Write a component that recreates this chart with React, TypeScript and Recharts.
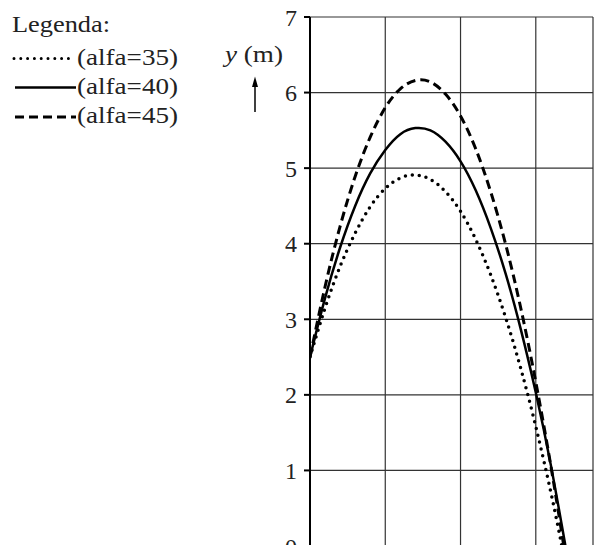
import { CartesianGrid, Line, LineChart, XAxis, YAxis } from 'recharts'

// horizontal distance in metres, read at each whole metre
const distances = [0, 1, 2, 3, 4, 5, 6, 7, 8, 9, 10, 11, 12, 13, 14, 15, 16]

// height (m) for each launch angle
const alfa35 = [2.5, 3.15, 3.7, 4.14, 4.49, 4.73, 4.87, 4.91, 4.85, 4.69, 4.43, 4.06, 3.59, 3.02, 2.35, 1.58, 0.71]
const alfa40 = [2.5, 3.28, 3.95, 4.5, 4.93, 5.24, 5.45, 5.53, 5.5, 5.35, 5.09, 4.71, 4.21, 3.6, 2.87, 2.03, 1.07]
const alfa45 = [2.5, 3.43, 4.23, 4.89, 5.41, 5.8, 6.05, 6.16, 6.14, 5.98, 5.69, 5.26, 4.69, 3.99, 3.15, 2.17, 1.06]

// where each curve reaches the ground
const landing35 = 16.73
const landing40 = 16.97
const landing45 = 16.86

const yTicks = [0, 1, 2, 3, 4, 5, 6, 7]
const xTicks = [0, 5, 10, 15]

const serif = '"Liberation Serif", "Times New Roman", Times, serif'

function series(values: number[], landing: number) {
  return [...distances.map((x, i) => ({ x, y: values[i] })), { x: landing, y: 0 }]
}

// the reference type is a little wider than Times, so stretch the text
function LegendBox() {
  return (
    <svg
      width={300}
      height={130}
      style={{ position: 'absolute', left: 0, top: 0, fontFamily: serif }}
      fill="#222"
    >
      <text x={12} y={32} fontSize={24} textLength={98} lengthAdjust="spacingAndGlyphs">
        Legenda:
      </text>
      <line x1={14} x2={75} y1={58.5} y2={58.5} stroke="#000" strokeWidth={3} strokeDasharray="0 6.8" strokeLinecap="round" />
      <text x={77} y={65} fontSize={24} textLength={101} lengthAdjust="spacingAndGlyphs">
        (alfa=35)
      </text>
      <line x1={15} x2={76} y1={87.5} y2={87.5} stroke="#000" strokeWidth={2.5} />
      <text x={77} y={94} fontSize={24} textLength={101} lengthAdjust="spacingAndGlyphs">
        (alfa=40)
      </text>
      <line x1={15} x2={76} y1={117} y2={117} stroke="#000" strokeWidth={3} strokeDasharray="9 5" />
      <text x={77} y={123} fontSize={24} textLength={101} lengthAdjust="spacingAndGlyphs">
        (alfa=45)
      </text>

      <text x={225} y={62} fontSize={24} textLength={58} lengthAdjust="spacingAndGlyphs">
        <tspan fontStyle="italic">y</tspan> (m)
      </text>
      <line x1={255} x2={255} y1={112} y2={84} stroke="#000" strokeWidth={1.5} />
      <polygon points="255,76.5 252,87 258,87" fill="#000" />
    </svg>
  )
}

const NoTick = () => <g />

export default function App() {
  return (
    <div
      style={{
        position: 'fixed',
        left: 0,
        top: 0,
        width: 596,
        height: 545,
        overflow: 'hidden',
        background: '#fff',
        fontFamily: serif,
      }}
    >
      <LineChart width={640} height={600} margin={{ top: 17, right: 47, left: 250, bottom: 24 }}>
        <CartesianGrid stroke="#333" strokeWidth={1.2} />
        <XAxis
          type="number"
          dataKey="x"
          domain={[0, 18.8]}
          ticks={xTicks}
          allowDataOverflow
          height={30}
          stroke="#000"
          strokeWidth={2}
          tickSize={6}
          tick={NoTick}
        />
        <YAxis
          type="number"
          domain={[0, 7]}
          ticks={yTicks}
          width={60}
          stroke="#000"
          strokeWidth={2}
          tickSize={6}
          tickMargin={7}
          tick={{ fontSize: 24, fill: '#222', fontFamily: serif }}
        />
        <Line
          data={series(alfa35, landing35)}
          dataKey="y"
          type="natural"
          stroke="#000"
          strokeWidth={3.5}
          strokeDasharray="0 7"
          strokeLinecap="round"
          dot={false}
          isAnimationActive={false}
        />
        <Line
          data={series(alfa40, landing40)}
          dataKey="y"
          type="natural"
          stroke="#000"
          strokeWidth={2.5}
          dot={false}
          isAnimationActive={false}
        />
        <Line
          data={series(alfa45, landing45)}
          dataKey="y"
          type="natural"
          stroke="#000"
          strokeWidth={3}
          strokeDasharray="9 5"
          dot={false}
          isAnimationActive={false}
        />
      </LineChart>
      <LegendBox />
    </div>
  )
}
